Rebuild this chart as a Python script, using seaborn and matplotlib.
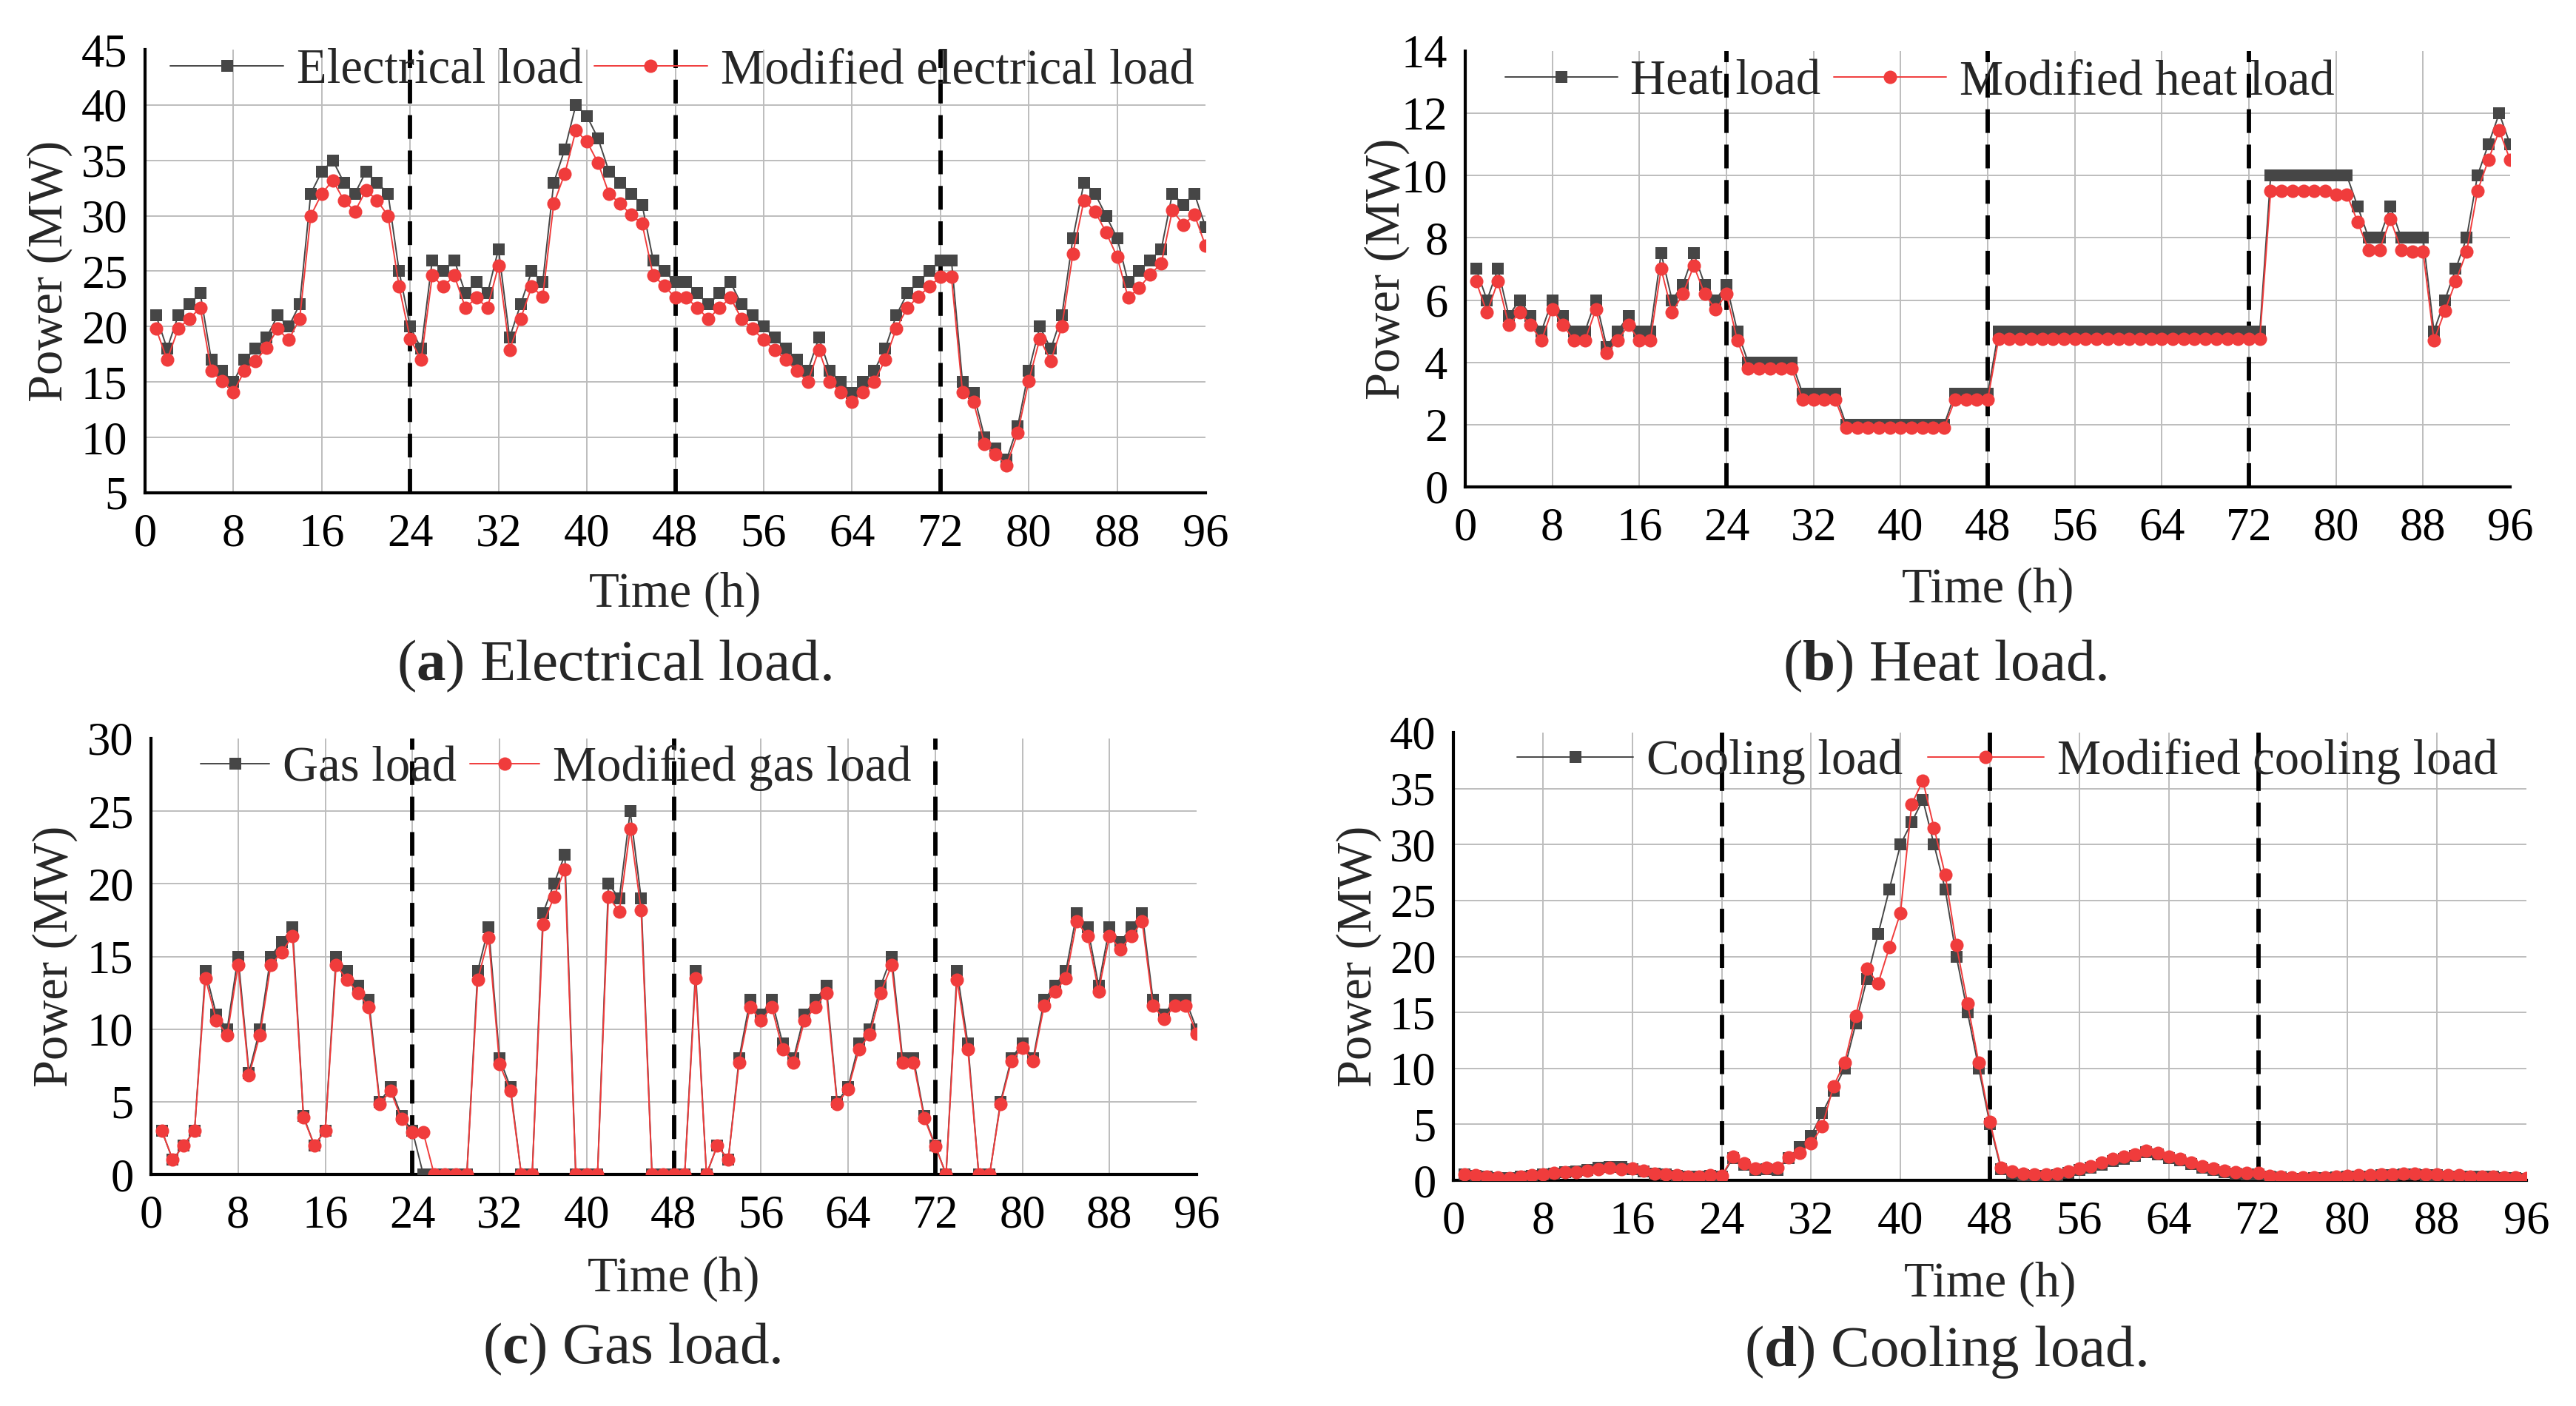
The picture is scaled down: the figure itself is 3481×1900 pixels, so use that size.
import matplotlib
matplotlib.use("Agg")
import matplotlib.pyplot as plt
import numpy as np
import pandas as pd
import seaborn as sns

# ---------------- data ----------------
hours = list(range(1, 97))
x_ticks = list(range(0, 97, 8))
day_bounds = [24, 48, 72]

elec_load = [21, 18, 21, 22, 23, 17, 16, 15, 17, 18, 19, 21, 20, 22, 32, 34, 35, 33, 32, 34, 33, 32, 25, 20,
             18, 26, 25, 26, 23, 24, 23, 27, 19, 22, 25, 24, 33, 36, 40, 39, 37, 34, 33, 32, 31, 26, 25, 24,
             24, 23, 22, 23, 24, 22, 21, 20, 19, 18, 17, 16, 19, 16, 15, 14, 15, 16, 18, 21, 23, 24, 25, 26,
             26, 15, 14, 10, 9, 8, 11, 16, 20, 18, 21, 28, 33, 32, 30, 28, 24, 25, 26, 27, 32, 31, 32, 29]
elec_mod = [19.8, 17.0, 19.8, 20.7, 21.7, 16.0, 15.1, 14.1, 16.0, 16.9, 18.1, 19.8, 18.8, 20.7, 30.0, 32.0, 33.2, 31.4, 30.4, 32.3, 31.4, 30.0, 23.6, 18.9,
            17.0, 24.6, 23.6, 24.6, 21.7, 22.6, 21.7, 25.5, 17.9, 20.7, 23.6, 22.7, 31.1, 33.8, 37.7, 36.7, 34.8, 32.0, 31.1, 30.1, 29.3, 24.6, 23.7, 22.6,
            22.6, 21.7, 20.7, 21.7, 22.6, 20.7, 19.8, 18.8, 17.9, 17.0, 16.0, 15.0, 17.9, 15.0, 14.1, 13.2, 14.1, 15.0, 17.0, 19.8, 21.7, 22.7, 23.6, 24.5,
            24.5, 14.1, 13.2, 9.4, 8.5, 7.5, 10.4, 15.1, 18.9, 16.9, 20.0, 26.6, 31.4, 30.4, 28.5, 26.3, 22.6, 23.5, 24.7, 25.7, 30.5, 29.2, 30.1, 27.3]

heat_load = [7, 6, 7, 5.5, 6, 5.5, 5, 6, 5.5, 5, 5, 6, 4.5, 5, 5.5, 5, 5, 7.5, 6, 6.5, 7.5, 6.5, 6, 6.5,
             5, 4, 4, 4, 4, 4, 3, 3, 3, 3, 2, 2, 2, 2, 2, 2, 2, 2, 2, 2, 3, 3, 3, 3,
             5, 5, 5, 5, 5, 5, 5, 5, 5, 5, 5, 5, 5, 5, 5, 5, 5, 5, 5, 5, 5, 5, 5, 5,
             5, 10, 10, 10, 10, 10, 10, 10, 10, 9, 8, 8, 9, 8, 8, 8, 5, 6, 7, 8, 10, 11, 12, 11]
heat_mod = [6.6, 5.6, 6.6, 5.2, 5.6, 5.2, 4.7, 5.7, 5.2, 4.7, 4.7, 5.7, 4.3, 4.7, 5.2, 4.7, 4.7, 7.0, 5.6, 6.2, 7.1, 6.2, 5.7, 6.2,
            4.7, 3.8, 3.8, 3.8, 3.8, 3.8, 2.8, 2.8, 2.8, 2.8, 1.9, 1.9, 1.9, 1.9, 1.9, 1.9, 1.9, 1.9, 1.9, 1.9, 2.8, 2.8, 2.8, 2.8,
            4.75, 4.75, 4.75, 4.75, 4.75, 4.75, 4.75, 4.75, 4.75, 4.75, 4.75, 4.75, 4.75, 4.75, 4.75, 4.75, 4.75, 4.75, 4.75, 4.75, 4.75, 4.75, 4.75, 4.75,
            4.75, 9.5, 9.5, 9.5, 9.5, 9.5, 9.5, 9.4, 9.4, 8.5, 7.6, 7.6, 8.6, 7.6, 7.55, 7.55, 4.7, 5.65, 6.6, 7.55, 9.5, 10.5, 11.45, 10.5]

gas_load = [3, 1, 2, 3, 14, 11, 10, 15, 7, 10, 15, 16, 17, 4, 2, 3, 15, 14, 13, 12, 5, 6, 4, 3,
            0, 0, 0, 0, 0, 14, 17, 8, 6, 0, 0, 18, 20, 22, 0, 0, 0, 20, 19, 25, 19, 0, 0, 0,
            0, 14, 0, 2, 1, 8, 12, 11, 12, 9, 8, 11, 12, 13, 5, 6, 9, 10, 13, 15, 8, 8, 4, 2,
            0, 14, 9, 0, 0, 5, 8, 9, 8, 12, 13, 14, 18, 17, 13, 17, 16, 17, 18, 12, 11, 12, 12, 10]
gas_mod = [3, 1, 2, 3, 13.5, 10.6, 9.6, 14.4, 6.8, 9.6, 14.4, 15.3, 16.4, 3.9, 2, 3, 14.4, 13.4, 12.5, 11.5, 4.85, 5.75, 3.8, 2.9,
           2.9, 0, 0, 0, 0, 13.4, 16.3, 7.6, 5.75, 0, 0, 17.2, 19.1, 21.0, 0, 0, 0, 19.1, 18.1, 23.8, 18.2, 0, 0, 0,
           0, 13.5, 0, 2, 1, 7.7, 11.5, 10.6, 11.5, 8.6, 7.7, 10.6, 11.5, 12.5, 4.85, 5.85, 8.6, 9.65, 12.5, 14.4, 7.7, 7.7, 3.86, 1.95,
           0, 13.4, 8.6, 0, 0, 4.85, 7.8, 8.7, 7.8, 11.6, 12.6, 13.5, 17.4, 16.4, 12.6, 16.4, 15.5, 16.4, 17.4, 11.6, 10.7, 11.6, 11.6, 9.7]

cool_load = [0.5, 0.4, 0.3, 0.2, 0.2, 0.3, 0.4, 0.5, 0.6, 0.7, 0.8, 0.9, 1.1, 1.2, 1.2, 1.0, 0.8, 0.6, 0.5, 0.4, 0.3, 0.3, 0.4, 0.3,
             2.0, 1.4, 0.95, 1.0, 0.95, 2.0, 3.0, 4.0, 6.0, 8.0, 10.0, 14.0, 18.0, 22.0, 26.0, 30.0, 32.0, 34.0, 30.0, 26.0, 20.0, 15.0, 10.0, 5.0,
             1.0, 0.6, 0.45, 0.4, 0.4, 0.45, 0.65, 0.9, 1.1, 1.4, 1.75, 1.95, 2.2, 2.5, 2.3, 2.0, 1.8, 1.45, 1.15, 0.95, 0.75, 0.6, 0.55, 0.5,
             0.3, 0.25, 0.15, 0.15, 0.2, 0.2, 0.25, 0.3, 0.35, 0.35, 0.45, 0.45, 0.5, 0.5, 0.45, 0.45, 0.35, 0.35, 0.3, 0.3, 0.3, 0.2, 0.2, 0.15]
cool_mod = [0.53, 0.44, 0.36, 0.25, 0.22, 0.36, 0.44, 0.56, 0.64, 0.72, 0.72, 0.86, 1.0, 1.1, 1.0, 1.08, 0.83, 0.61, 0.53, 0.44, 0.36, 0.36, 0.44, 0.39,
            2.1, 1.5, 1.08, 1.14, 1.1, 2.06, 2.47, 3.28, 4.8, 8.4, 10.5, 14.7, 18.9, 17.6, 20.8, 23.9, 33.6, 35.7, 31.5, 27.3, 21.0, 15.8, 10.5, 5.25,
            1.14, 0.78, 0.58, 0.53, 0.53, 0.58, 0.8, 1.08, 1.28, 1.56, 1.92, 2.11, 2.33, 2.67, 2.45, 2.11, 1.92, 1.56, 1.28, 1.08, 0.86, 0.72, 0.67, 0.64,
            0.39, 0.36, 0.25, 0.25, 0.28, 0.28, 0.36, 0.39, 0.44, 0.44, 0.53, 0.53, 0.58, 0.58, 0.53, 0.53, 0.44, 0.44, 0.36, 0.36, 0.36, 0.25, 0.25, 0.22]

elec_names = ["Electrical load", "Modified electrical load"]
heat_names = ["Heat load", "Modified heat load"]
gas_names = ["Gas load", "Modified gas load"]
cool_names = ["Cooling load", "Modified cooling load"]

elec_yticks = list(range(5, 46, 5))
heat_yticks = list(range(0, 15, 2))
gas_yticks = list(range(0, 31, 5))
cool_yticks = list(range(0, 41, 5))

captions = [("a", "Electrical load."), ("b", "Heat load."), ("c", "Gas load."), ("d", "Cooling load.")]
x_label = "Time (h)"
y_label = "Power (MW)"

# ---------------- style ----------------
sns.set_style("white")
plt.rcParams["font.family"] = ["Liberation Serif", "DejaVu Serif"]
plt.rcParams["mathtext.fontset"] = "custom"
plt.rcParams["mathtext.rm"] = "Liberation Serif"
plt.rcParams["mathtext.bf"] = "Liberation Serif:bold"

BLACK = "#464646"
RED = "#f03c3c"
GRID = "#bdbdbd"

W, H = 3481, 1900
fig = plt.figure(figsize=(W / 100, H / 100), dpi=100)


def fx(px):
    return px / W


def fy(py):
    return 1 - py / H


panels = [
    dict(box=(196, 1629, 67, 666), yticks=elec_yticks, base=elec_load, mod=elec_mod, names=elec_names,
         leg=(230, 96, 2.3, 0.27, 0.22), ylab=67, xlab=(912, 803), cap=(830, 900), capt=captions[0]),
    dict(box=(1980, 3392, 69, 658), yticks=heat_yticks, base=heat_load, mod=heat_mod, names=heat_names,
         leg=(2034, 111, 2.28, 0.26, 0.27), ylab=1874, xlab=(2686, 797), cap=(2628, 900), capt=captions[1]),
    dict(box=(204, 1617, 998, 1587), yticks=gas_yticks, base=gas_load, mod=gas_mod, names=gas_names,
         leg=(271, 1038, 1.4, 0.27, 0.27), ylab=74, xlab=(910, 1728), cap=(854, 1823), capt=captions[2]),
    dict(box=(1964, 3414, 990, 1595), yticks=cool_yticks, base=cool_load, mod=cool_mod, names=cool_names,
         leg=(2050, 1029, 2.36, 0.27, 0.5), ylab=1836, xlab=(2689, 1735), cap=(2629, 1827), capt=captions[3]),
]

for p in panels:
    l, r, t, b = p["box"]
    ax = fig.add_axes([fx(l), fy(b), (r - l) / W, (b - t) / H])
    df = pd.DataFrame({"Time": hours, "base": p["base"], "mod": p["mod"]})
    sns.lineplot(data=df, x="Time", y="base", ax=ax, color=BLACK, lw=1.4, marker="s",
                 markersize=12, markeredgewidth=0, label=p["names"][0], estimator=None, zorder=3)
    sns.lineplot(data=df, x="Time", y="mod", ax=ax, color=RED, lw=1.4, marker="o",
                 markersize=13, markeredgewidth=0, label=p["names"][1], estimator=None, zorder=4)
    for xv in day_bounds:
        ax.axvline(xv, color="black", lw=4.2, dashes=(5.5, 2.7), zorder=2.5)
    ax.set_xlim(0, 96)
    ax.set_ylim(p["yticks"][0], p["yticks"][-1])
    ax.set_xticks(x_ticks)
    ax.set_yticks(p["yticks"])
    ax.set_xlabel("")
    ax.set_ylabel("")
    ax.grid(True, color=GRID, lw=1.4)
    ax.set_axisbelow(True)
    ax.get_ygridlines()[-1].set_visible(False)
    ax.get_xgridlines()[-1].set_visible(False)
    for s in ("top", "right"):
        ax.spines[s].set_visible(False)
    for s in ("left", "bottom"):
        ax.spines[s].set_linewidth(3.0)
        ax.spines[s].set_color("black")
    ax.tick_params(axis="both", direction="in", length=13, width=3.0, labelsize=45, colors="black")
    ax.tick_params(axis="x", pad=20)
    ax.tick_params(axis="y", pad=17)
    lx, ly, hl, htp, cs = p["leg"]
    ax.legend(loc="center left", bbox_to_anchor=(fx(lx), fy(ly)), bbox_transform=fig.transFigure,
              ncol=2, frameon=False, fontsize=48, handlelength=hl, handletextpad=htp,
              columnspacing=cs, borderpad=0, borderaxespad=0)
    fig.text(fx(p["ylab"]), fy((t + b) / 2), y_label, rotation=90, ha="center", va="center", fontsize=48)
    fig.text(fx(p["xlab"][0]), fy(p["xlab"][1]), x_label, ha="center", va="center", fontsize=48)
    letter, rest = p["capt"]
    fig.text(fx(p["cap"][0]), fy(p["cap"][1]), "($\\mathbf{" + letter + "}$) " + rest,
             ha="center", va="center", fontsize=57)

fig.savefig("out.png", dpi=100)
